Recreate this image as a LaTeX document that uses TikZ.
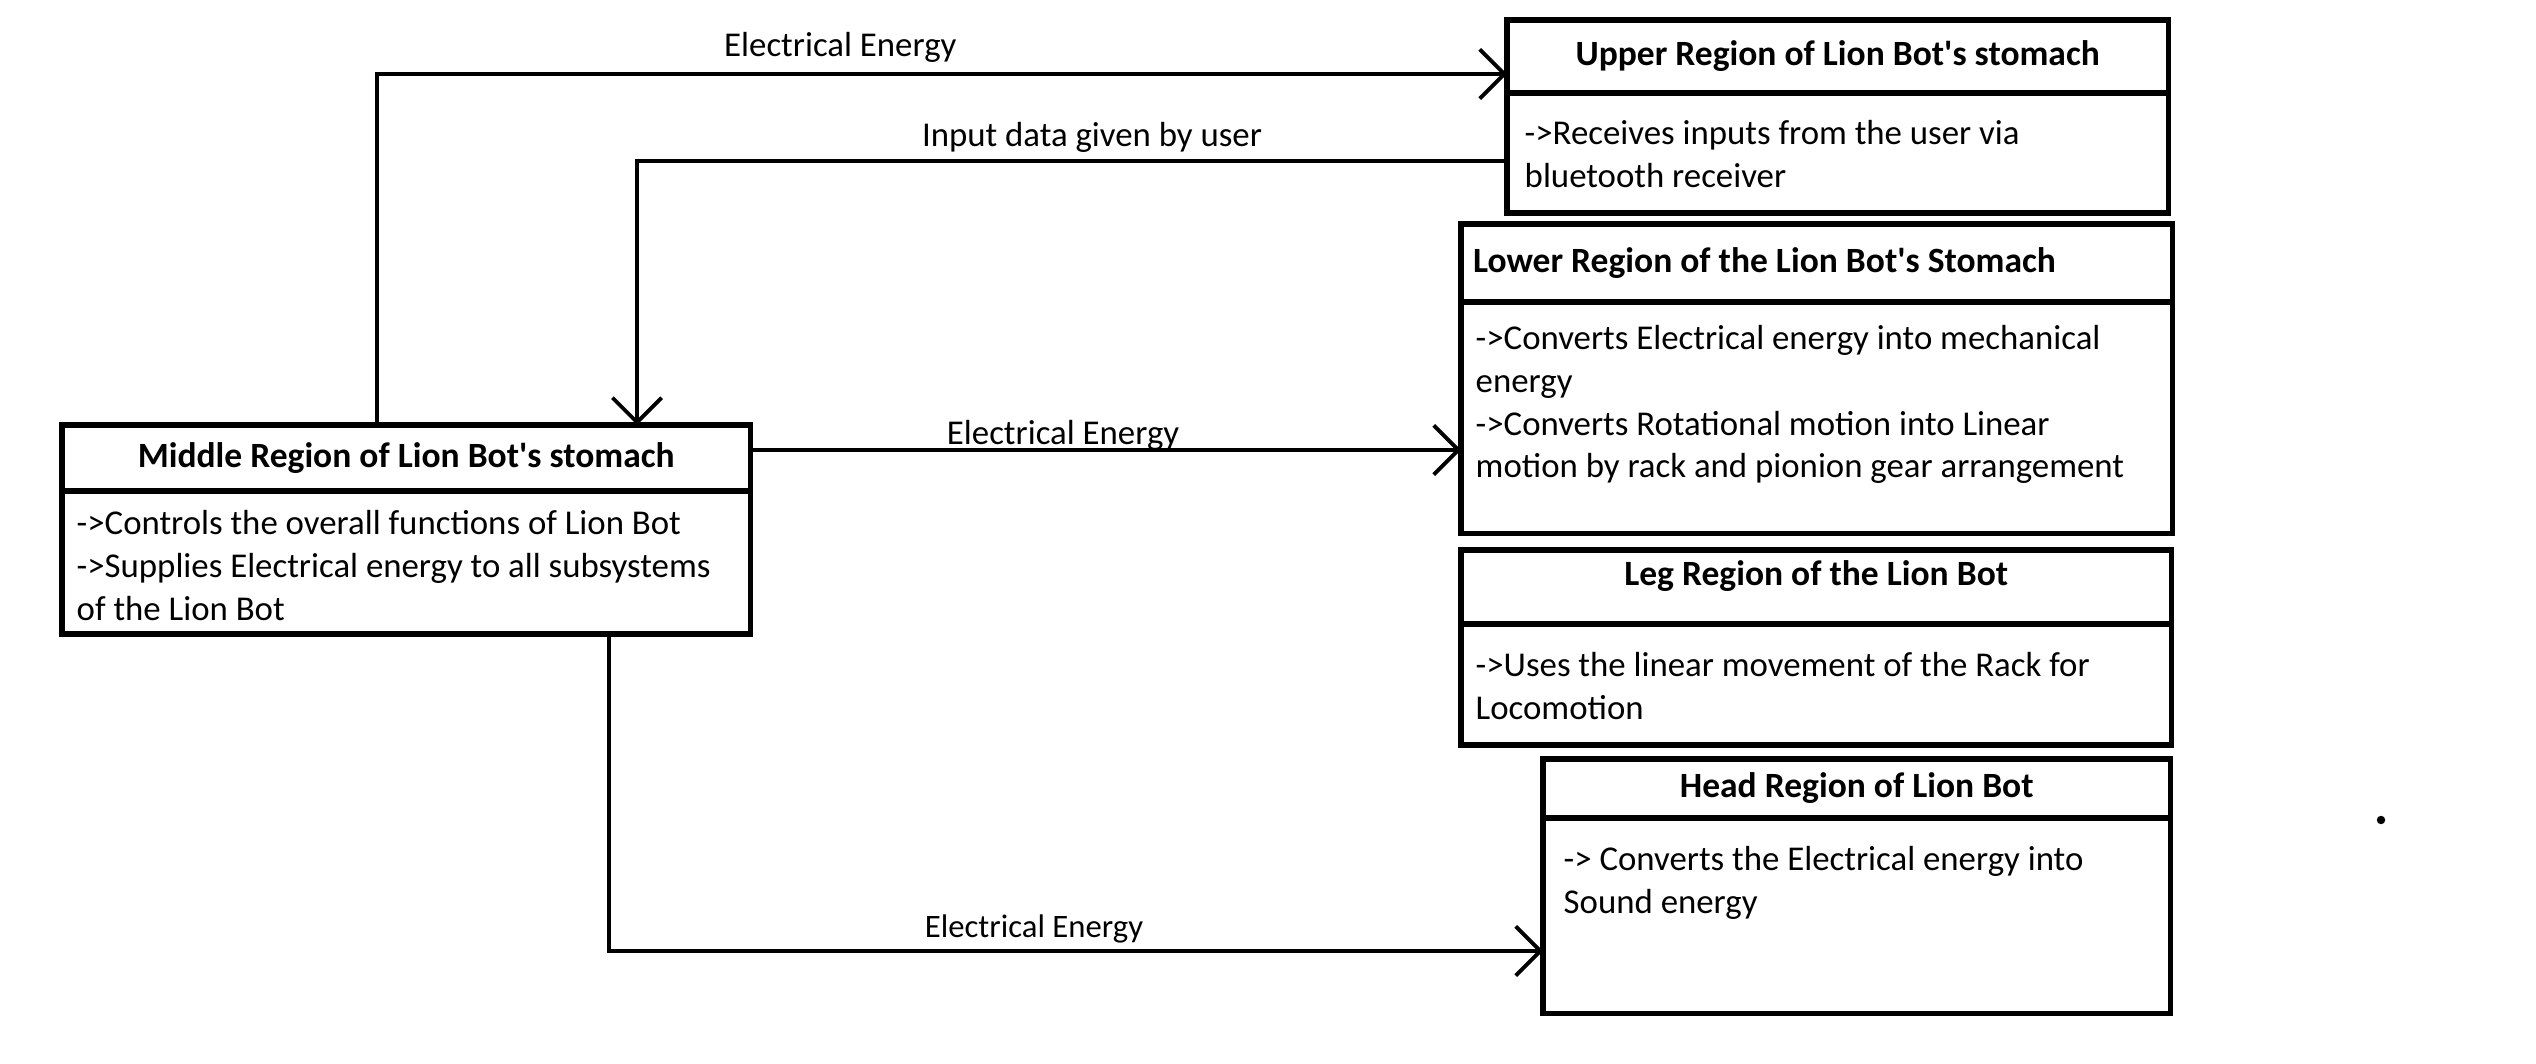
\documentclass[tikz,border=0pt]{standalone}
\usepackage{fontspec}
\setmainfont{Carlito}[Ligatures=TeXOff]
\usetikzlibrary{positioning,arrows.meta}

\tikzset{
  head/.style={draw,line width=1.5pt,anchor=north west,inner sep=0pt,outer sep=0pt,font=\fontsize{10.1}{12.1}\selectfont\bfseries},
  body/.style={draw,line width=1.5pt,inner sep=0pt,outer sep=0pt},
  note/.style={anchor=north west,align=left,inner sep=0pt,font=\fontsize{9.9}{12.1}\selectfont},
  flow/.style={line width=1.1pt,-{Straight Barb[length=7pt,width=14pt]}},
  lbl/.style={anchor=base,inner sep=0pt,font=\fontsize{9.9}{12.1}\selectfont}
}

\begin{document}
\begin{tikzpicture}[x=0.01cm,y=-0.01cm]
\useasboundingbox (0,0) rectangle (2536,1064);
% middle region
\node[head,minimum width=6.88cm,minimum height=0.66cm] (mid) at (62,425) {Middle Region of Lion Bot's stomach};
\node[body,minimum width=6.88cm,minimum height=1.43cm,below=0pt of mid] (midb) {};
\node[note] (midt) at ([shift={(14,19)}]midb.north west) {->Controls the overall functions of Lion Bot\\->Supplies Electrical energy to all subsystems\\of the Lion Bot};
% upper region
\node[head,minimum width=6.61cm,minimum height=0.73cm] (up) at (1507,20) {Upper Region of Lion Bot's stomach};
\node[body,minimum width=6.61cm,minimum height=1.20cm,below=0pt of up] (upb) {};
\node[note] (upt) at ([shift={(17,27)}]upb.north west) {->Receives inputs from the user via\\bluetooth receiver};
% lower region
\node[head,minimum width=7.11cm,minimum height=0.78cm] (low) at (1461,224) {\makebox[6.87cm][l]{Lower Region of the Lion Bot's Stomach}};
\node[body,minimum width=7.11cm,minimum height=2.31cm,below=0pt of low] (lowb) {};
\node[note] (lowt) at ([shift={(14,23)}]lowb.north west) {->Converts Electrical energy into mechanical\\energy\\->Converts Rotational motion into Linear\\motion by rack and pionion gear arrangement};
% leg region
\node[head,minimum width=7.10cm,minimum height=0.74cm,text depth=7.8pt] (leg) at (1461,550) {Leg Region of the Lion Bot};
\node[body,minimum width=7.10cm,minimum height=1.21cm,below=0pt of leg] (legb) {};
\node[note] (legt) at ([shift={(14,28)}]legb.north west) {->Uses the linear movement of the Rack for\\Locomotion};
% head region
\node[head,minimum width=6.27cm,minimum height=0.59cm] (hd) at (1543,759) {Head Region of Lion Bot};
\node[body,minimum width=6.27cm,minimum height=1.95cm,below=0pt of hd] (hdb) {};
\node[note] (hdt) at ([shift={(20,28)}]hdb.north west) {-> Converts the Electrical energy into\\Sound energy};
% connectors
\coordinate (e1) at (377,74);
\coordinate (e2) at (637,161);
\coordinate (e3) at (750,450);
\coordinate (e4) at (609,951);
\draw[flow] (mid.north -| e1) -- (e1) -- node[lbl,pos=0.41,yshift=5pt] {Electrical Energy} (up.west |- e1);
\draw[flow] (upb.west |- e2) -- node[lbl,pos=0.477,yshift=4pt] {Input data given by user} (e2) -- (mid.north -| e2);
\draw[flow] (mid.east |- e3) -- node[lbl,pos=0.44,yshift=1.7pt] {Electrical Energy} (lowb.west |- e3);
\draw[flow] (midb.south -| e4) -- (e4) -- node[lbl,pos=0.455,yshift=3.7pt,font=\fontsize{9.3}{11}\selectfont] {Electrical Energy} (hdb.west |- e4);
\fill (2381,820) circle[radius=1.2pt];
\end{tikzpicture}
\end{document}
